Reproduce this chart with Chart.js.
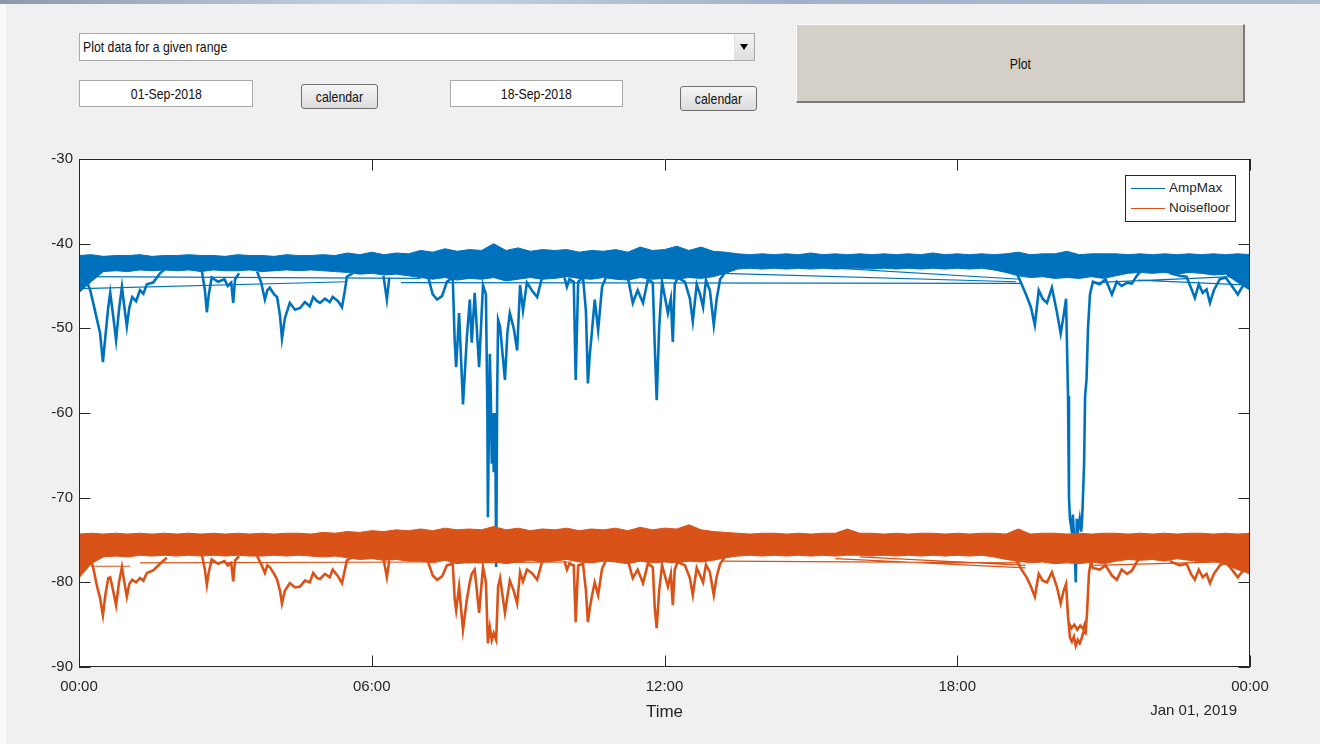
<!DOCTYPE html>
<html>
<head>
<meta charset="utf-8">
<script src="https://cdn.jsdelivr.net/npm/chart.js@4.4.1/dist/chart.umd.min.js"></script>
<style>
html,body{margin:0;padding:0;}
body{width:1320px;height:744px;background:#f0f0f0;position:relative;overflow:hidden;font-family:"Liberation Sans",Arial,sans-serif;}
.ui{position:absolute;box-sizing:border-box;font-family:"Liberation Sans",Arial,sans-serif;font-size:14.3px;color:#111;}
.ui .t{display:inline-block;transform:scaleX(0.86);transform-origin:center;white-space:nowrap;}
#topbar{position:absolute;left:0;top:0;width:1320px;height:4px;background:linear-gradient(90deg,#8d99aa,#c6d6e8 30%,#a2b2c6 60%,#aebdd0);}
#leftstrip{position:absolute;left:0;top:4px;width:6px;height:740px;background:#fafafa;}
#popup{left:79px;top:33px;width:676px;height:28px;background:#fff;border:1px solid #a9a9a9;}
#popup .txt{position:absolute;left:3px;top:0;line-height:27px;}
#popup .txt .t{transform-origin:left center;}
#popup .arrow{position:absolute;right:0;top:0;width:19px;height:26px;background:linear-gradient(#f3f3f3,#dedede);border-left:1px solid #e2e2e2;}
#popup .arrow:after{content:"";position:absolute;left:5px;top:10px;border-left:4px solid transparent;border-right:4px solid transparent;border-top:6px solid #000;}
.edit{background:#fff;border:1px solid #a9a9a9;text-align:center;line-height:26px;}
.btn{border:1px solid #707070;border-radius:3px;background:linear-gradient(#f5f5f5,#dcdcdc);text-align:center;line-height:25px;}
#plotbtn{left:796px;top:24px;width:449px;height:79px;background:#d4d0c8;border-top:1px solid #fbfbfb;border-left:1px solid #fbfbfb;border-right:2px solid #7b7b7b;border-bottom:2px solid #7b7b7b;text-align:center;line-height:78px;}
#chartwrap{position:absolute;left:0;top:140px;width:1320px;height:604px;}
#legend{position:absolute;left:1125px;top:175px;width:111px;height:47px;box-sizing:border-box;border:1px solid #262626;background:#fff;font-family:"Liberation Sans",Arial,sans-serif;font-size:13.5px;color:#262626;}
#legend .row{position:absolute;left:0;height:20px;width:110px;}
#legend .ln{position:absolute;left:5px;top:10px;width:34px;height:0;border-top:1.5px solid;}
#legend .lb{position:absolute;left:43px;top:2px;line-height:16px;white-space:nowrap;}
#datelabel{position:absolute;left:1100px;width:137px;top:700px;text-align:right;font-family:"Liberation Sans",Arial,sans-serif;font-size:15px;color:#262626;line-height:20px;}
</style>
</head>
<body>
<div id="topbar"></div>
<div id="leftstrip"></div>
<div class="ui" id="popup"><span class="txt"><span class="t">Plot data for a given range</span></span><span class="arrow"></span></div>
<div class="ui edit" style="left:79px;top:80px;width:174px;height:27px;"><span class="t">01-Sep-2018</span></div>
<div class="ui btn" style="left:301px;top:84px;width:77px;height:25px;"><span class="t">calendar</span></div>
<div class="ui edit" style="left:450px;top:80px;width:173px;height:27px;"><span class="t">18-Sep-2018</span></div>
<div class="ui btn" style="left:680px;top:86px;width:77px;height:25px;"><span class="t">calendar</span></div>
<div class="ui" id="plotbtn"><span class="t">Plot</span></div>
<div id="chartwrap"><canvas id="c" width="1320" height="604"></canvas></div>
<div id="legend">
  <div class="row" style="top:2px;"><span class="ln" id="lnA"></span><span class="lb" id="lbA"></span></div>
  <div class="row" style="top:22px;"><span class="ln" id="lnN"></span><span class="lb" id="lbN"></span></div>
</div>
<div id="datelabel">Jan 01, 2019</div>
<script>
// ---------------- data ----------------
const seriesNames = ['AmpMax', 'Noisefloor'];
const xTickLabels = ['00:00', '06:00', '12:00', '18:00', '00:00'];
const xAxisTitle = 'Time';

// sample times (hours of day) for the dense band envelopes
const bandHours = [0,0.25,0.5,0.75,1,1.25,1.5,1.75,2,2.25,2.5,2.75,3,3.25,3.5,3.75,4,4.25,4.5,4.75,
  5,5.25,5.5,5.75,6,6.25,6.5,6.75,7,7.25,7.5,7.75,8,8.25,8.5,8.75,9,9.25,9.5,9.75,
  10,10.25,10.5,10.75,11,11.25,11.5,11.75,12,12.25,12.5,12.75,13,13.25,13.5,13.75,14,14.25,14.5,14.75,
  15,15.25,15.5,15.75,16,16.25,16.5,16.75,17,17.25,17.5,17.75,18,18.25,18.5,18.75,19,19.25,19.5,19.75,
  20,20.25,20.5,20.75,21,21.25,21.5,21.75,22,22.25,22.5,22.75,23,23.25,23.5,23.75,24];

// AmpMax band: upper and lower envelope
const ampTop = [-41.4,-41.3,-41.5,-41.4,-41.4,-41.3,-41.5,-41.4,-41.4,-41.3,
  -41.4,-41.4,-41.5,-41.3,-41.4,-41.4,-41.5,-41.3,-41.4,-41.4,
  -41.3,-41.4,-41.1,-41.3,-41.0,-41.3,-41.1,-41.2,
  -40.8,-41.0,-40.6,-40.9,-40.7,-40.8,-40.0,-40.8,-40.5,-40.9,
  -40.7,-40.8,-40.7,-41.0,-40.8,-40.9,-40.7,-41.0,-40.4,-40.8,
  -40.7,-40.3,-40.8,-40.4,-40.9,-41.0,
  -41.2,-41.3,-41.2,-41.3,-41.2,-41.3,-41.1,-41.3,-41.2,-41.3,
  -41.2,-41.3,-41.2,-41.3,-41.2,-41.3,-41.1,-41.3,-41.2,-41.3,
  -41.2,-41.3,-41.2,-41.0,-41.3,-41.2,-41.2,-40.9,-41.3,-41.2,
  -41.2,-41.2,-41.3,-41.2,-41.3,-41.2,-41.3,-41.2,-41.3,-41.2,
  -41.3,-41.2,-41.3];
const ampBottom = [-45.8,-44.5,-43.3,-43.2,-43.3,-43.1,-43.2,-43.1,-43.2,-43.1,
  -43.3,-43.1,-43.2,-43.2,-43.1,-43.3,-43.2,-43.1,-43.2,-43.1,
  -43.2,-43.3,-43.4,-43.6,-43.5,-43.7,-43.6,-43.8,
  -44.0,-44.2,-44.0,-44.3,-44.1,-44.2,-44.0,-44.4,-44.2,-44.0,
  -44.2,-44.1,-43.9,-44.1,-44.2,-44.0,-44.2,-44.3,-44.0,-44.2,
  -44.1,-44.2,-44.0,-44.1,-43.9,-43.5,
  -43.0,-42.9,-43.0,-42.9,-43.0,-42.9,-43.0,-42.9,-43.0,-42.9,
  -42.9,-43.0,-42.9,-43.0,-42.9,-43.0,-42.9,-43.0,-42.9,-43.0,
  -42.9,-43.1,-43.4,
  -43.8,-44.0,-43.9,-44.1,-44.0,-44.1,-43.9,-44.1,
  -43.8,-43.5,-43.4,-43.5,-43.4,-43.6,-43.4,-43.5,-43.7,-43.6,
  -44.6,-45.5];

// Noisefloor band: upper and lower envelope
const noiseTop = [-74.3,-74.2,-74.3,-74.2,-74.3,-74.2,-74.3,-74.2,-74.3,-74.2,
  -74.3,-74.2,-74.3,-74.2,-74.3,-74.2,-74.3,-74.2,-74.2,-74.3,
  -74.1,-74.2,-74.0,-74.1,-73.9,-74.0,-73.8,-73.9,
  -73.7,-73.9,-73.6,-73.8,-73.7,-73.8,-73.4,-73.8,-73.6,-73.9,
  -73.7,-73.8,-73.6,-73.9,-73.7,-73.8,-73.6,-73.9,-73.5,-73.8,
  -73.6,-73.7,-73.2,-73.8,-74.0,-74.1,
  -74.2,-74.3,-74.2,-74.2,-74.3,-74.2,-74.3,-74.2,-74.2,-73.7,
  -74.2,-74.2,-74.3,-74.2,-74.3,-74.2,-74.2,-74.3,-74.2,-74.3,
  -74.2,-74.2,-74.3,-73.7,-74.3,-74.2,-74.2,-74.3,-74.2,-74.3,
  -74.2,-74.2,-74.3,-74.2,-74.3,-74.2,-74.3,-74.2,-74.2,-74.3,
  -74.2,-74.3,-74.2];
const noiseBottom = [-79.5,-77.8,-77.0,-76.9,-77.0,-76.8,-76.9,-76.8,-76.9,-76.8,
  -76.9,-76.8,-76.9,-76.8,-76.9,-76.9,-76.8,-76.9,-76.8,-76.9,
  -77.0,-76.9,-77.1,-77.3,-77.2,-77.4,-77.3,-77.5,
  -77.5,-77.7,-77.4,-77.8,-77.6,-77.7,-77.5,-77.8,-77.6,-77.4,
  -77.6,-77.5,-77.3,-77.6,-77.7,-77.5,-77.6,-77.8,-77.5,-77.7,
  -77.6,-77.7,-77.5,-77.6,-77.4,-77.1,
  -76.9,-76.8,-76.9,-76.8,-76.9,-76.8,-76.9,-76.8,-76.9,-76.8,
  -76.8,-76.9,-76.8,-76.9,-76.8,-76.9,-76.8,-76.9,-76.8,-76.9,
  -76.8,-77.0,-77.3,
  -77.5,-77.7,-77.6,-77.8,-77.7,-77.8,-77.6,-77.8,
  -77.5,-77.3,-77.4,-77.3,-77.5,-77.2,-77.4,-77.6,-77.5,-77.9,
  -78.5,-79.0];

// AmpMax excursions below the band: [hour, dB], null = break
const ampDips = [
  [0.12,-43.6],[0.16,-44.5],[0.23,-45.5],[0.30,-47.2],[0.37,-49.0],[0.43,-50.5],[0.49,-54.0],[0.54,-51.0],[0.60,-47.5],[0.64,-45.8],
  [0.70,-48.5],[0.76,-51.4],[0.82,-47.8],[0.88,-45.1],[0.93,-47.5],[0.98,-49.8],[1.03,-47.6],[1.09,-46.3],[1.17,-46.8],[1.25,-45.5],
  [1.32,-45.9],[1.39,-44.8],[1.52,-44.6],[1.66,-43.5],[1.80,-42.8], null,
  [2.52,-43.3],[2.58,-45.5],[2.62,-48.1],[2.66,-46.0],[2.72,-44.0],[2.85,-44.5],[2.98,-44.2],[3.05,-45.0],[3.12,-44.6],[3.16,-47.0],
  [3.20,-44.2],[3.28,-43.5], null,
  [3.65,-43.3],[3.73,-44.5],[3.81,-46.6],[3.86,-45.5],[3.91,-45.2],[4.00,-46.0],[4.06,-46.3],[4.12,-48.5],[4.16,-51.2],[4.22,-48.8],
  [4.32,-47.0],[4.43,-47.8],[4.53,-47.6],[4.63,-46.9],[4.73,-47.4],[4.80,-46.3],[4.88,-46.8],[4.94,-47.0],[5.04,-46.5],[5.14,-46.9],
  [5.20,-46.3],[5.31,-46.8],[5.39,-47.5],[5.45,-45.5],[5.49,-43.9],[5.61,-43.5], null,
  [6.24,-43.8],[6.31,-46.6],[6.36,-44.0], null,
  [7.15,-43.8],[7.25,-46.0],[7.34,-46.6],[7.44,-46.2],[7.54,-44.5],[7.66,-44.0],[7.70,-51.5],[7.73,-54.6],[7.79,-48.2],[7.87,-59.0],
  [7.95,-51.0],[8.01,-46.6],[8.05,-51.7],[8.11,-45.8],[8.20,-54.6],[8.28,-44.9],[8.34,-46.0],[8.37,-60.0],[8.38,-72.3],[8.40,-62.0],
  [8.42,-53.0],[8.44,-58.0],[8.46,-66.0],[8.48,-60.0],[8.50,-67.0],[8.53,-60.0],[8.55,-78.2],[8.57,-58.0],[8.59,-49.0],[8.63,-49.8],
  [8.68,-53.0],[8.73,-56.1],[8.78,-50.5],[8.83,-48.2],[8.91,-50.0],[8.98,-52.6],[9.04,-44.9],[9.10,-47.9],[9.18,-44.6],[9.28,-45.5],
  [9.39,-46.3],[9.49,-44.0], null,
  [9.95,-44.0],[10.00,-45.1],[10.05,-44.2],[10.14,-44.5],[10.18,-56.1],[10.23,-44.5],[10.33,-44.0],[10.39,-48.0],[10.43,-56.5],[10.47,-53.0],
  [10.51,-50.6],[10.57,-46.6],[10.64,-50.2],[10.72,-45.1],[10.80,-44.0], null,
  [11.25,-44.0],[11.35,-47.0],[11.45,-45.5],[11.56,-47.0],[11.66,-44.2],[11.76,-44.6],[11.80,-52.0],[11.84,-58.5],[11.89,-50.0],[11.95,-44.5],
  [12.07,-48.2],[12.13,-46.5],[12.17,-51.6],[12.21,-44.8],[12.27,-44.0],[12.42,-44.5],[12.52,-46.5],[12.58,-49.2],[12.66,-44.8],[12.73,-46.0],
  [12.79,-47.5],[12.85,-44.3],[12.93,-45.5],[13.01,-49.6],[13.07,-46.5],[13.14,-44.2],[13.24,-43.4], null,
  [19.14,-43.3],[19.22,-43.5],[19.32,-44.8],[19.43,-46.3],[19.51,-47.5],[19.59,-49.6],[19.67,-45.5],[19.75,-46.5],[19.84,-47.0],[19.94,-45.2],
  [20.04,-48.0],[20.12,-50.6],[20.18,-48.5],[20.23,-46.5],[20.27,-58.0],[20.29,-70.0],[20.31,-72.5],[20.35,-74.0],[20.37,-72.0],[20.39,-74.2],
  [20.43,-80.0],[20.45,-72.5],[20.47,-74.0],[20.51,-72.5],[20.54,-74.0],[20.56,-72.5],[20.60,-66.0],[20.62,-58.0],[20.65,-56.0],[20.68,-50.0],
  [20.72,-46.0],[20.78,-44.5],[20.92,-44.8],[21.04,-44.2],[21.17,-46.0],[21.27,-44.5],[21.37,-45.0],[21.48,-44.6],[21.58,-44.7],[21.68,-43.8],
  [21.74,-43.4], null,
  [22.36,-43.5],[22.56,-43.8],[22.70,-43.9],[22.79,-45.2],[22.87,-46.4],[22.95,-44.8],[23.03,-45.8],[23.11,-45.4],[23.18,-47.0],[23.26,-45.5],
  [23.38,-44.2],[23.50,-44.0],[23.63,-45.0],[23.75,-46.0],[23.83,-45.2],[23.91,-44.6],[24.00,-44.0]
];
// AmpMax day-to-day wrap segments
const ampWraps = [
  [0.05,-45.3],[5.50,-44.5], null, [0.20,-43.9],[7.00,-44.1], null, [6.60,-44.6],[19.30,-44.7], null,
  [13.20,-43.5],[19.20,-44.5], null, [15.50,-42.9],[19.30,-44.2], null, [20.80,-44.6],[24.00,-43.8], null,
  [21.70,-44.3],[24.00,-44.9]
];

// Noisefloor excursions below the band
const noiseDips = [
  [0.02,-79.0],[0.12,-77.5],[0.23,-77.0],[0.30,-78.5],[0.37,-80.5],[0.43,-81.8],[0.49,-83.9],[0.54,-81.5],[0.60,-79.5],[0.64,-79.4],
  [0.70,-81.0],[0.76,-82.7],[0.82,-80.0],[0.88,-78.2],[0.93,-80.0],[0.98,-81.7],[1.03,-80.2],[1.09,-79.7],[1.17,-80.0],[1.25,-79.5],
  [1.32,-79.8],[1.39,-78.9],[1.52,-78.6],[1.66,-77.8],[1.80,-77.1], null,
  [2.52,-76.8],[2.58,-78.5],[2.62,-80.3],[2.66,-78.8],[2.72,-77.3],[2.85,-77.8],[2.98,-77.5],[3.05,-78.0],[3.12,-77.7],[3.16,-79.9],
  [3.20,-77.4],[3.28,-76.9], null,
  [3.65,-76.9],[3.73,-77.8],[3.81,-78.9],[3.86,-78.0],[3.91,-78.2],[4.00,-79.0],[4.06,-79.7],[4.12,-81.0],[4.16,-82.5],[4.22,-81.0],
  [4.32,-80.1],[4.43,-80.6],[4.53,-80.5],[4.63,-79.8],[4.73,-80.0],[4.80,-78.9],[4.88,-79.5],[4.94,-79.6],[5.04,-79.0],[5.14,-79.4],
  [5.20,-78.5],[5.31,-79.3],[5.39,-80.1],[5.45,-78.5],[5.49,-77.4],[5.61,-77.0], null,
  [6.24,-77.2],[6.31,-79.4],[6.36,-77.4], null,
  [7.15,-77.5],[7.25,-79.2],[7.34,-79.7],[7.44,-79.3],[7.54,-78.0],[7.66,-77.8],[7.70,-82.0],[7.73,-83.3],[7.79,-80.5],[7.87,-85.6],
  [7.95,-82.0],[8.01,-80.0],[8.05,-79.0],[8.11,-78.5],[8.20,-83.6],[8.28,-78.2],[8.34,-80.0],[8.38,-87.2],[8.42,-85.3],[8.46,-86.8],
  [8.50,-86.0],[8.55,-86.8],[8.59,-80.5],[8.63,-79.5],[8.73,-83.6],[8.83,-79.8],[8.91,-81.0],[8.98,-82.5],[9.04,-78.8],[9.10,-79.9],
  [9.18,-78.5],[9.28,-78.9],[9.39,-79.7],[9.49,-77.6], null,
  [9.95,-77.5],[10.00,-78.5],[10.05,-77.8],[10.14,-78.0],[10.18,-84.7],[10.23,-78.0],[10.33,-77.8],[10.39,-81.0],[10.43,-84.7],[10.47,-83.0],
  [10.51,-81.7],[10.57,-80.0],[10.64,-81.5],[10.72,-78.4],[10.80,-77.4], null,
  [11.25,-77.4],[11.35,-79.5],[11.45,-78.5],[11.56,-80.1],[11.66,-77.8],[11.76,-78.2],[11.80,-83.0],[11.84,-85.4],[11.89,-81.0],[11.95,-78.0],
  [12.07,-80.5],[12.13,-79.0],[12.17,-82.7],[12.21,-78.5],[12.27,-77.6],[12.42,-78.0],[12.52,-79.5],[12.58,-81.5],[12.66,-78.3],[12.73,-79.2],
  [12.79,-80.0],[12.85,-77.9],[12.93,-78.8],[13.01,-81.5],[13.07,-79.3],[13.14,-77.8],[13.24,-77.0], null,
  [19.14,-77.0],[19.22,-77.5],[19.32,-78.5],[19.43,-79.5],[19.51,-80.5],[19.59,-81.7],[19.67,-79.0],[19.75,-79.8],[19.84,-80.0],[19.94,-78.8],
  [20.04,-80.5],[20.12,-82.5],[20.18,-81.0],[20.23,-80.2],[20.27,-84.0],[20.31,-86.5],[20.35,-87.0],[20.39,-86.4],[20.43,-87.5],[20.47,-86.8],
  [20.51,-87.2],[20.55,-86.6],[20.59,-85.8],[20.63,-86.0],[20.66,-83.6],[20.70,-78.9],[20.74,-77.5],[20.78,-78.3],[20.92,-78.5],[21.04,-78.0],
  [21.17,-79.2],[21.27,-79.7],[21.37,-78.5],[21.48,-79.0],[21.58,-78.6],[21.68,-77.6],[21.74,-77.0], null,
  [20.29,-84.8],[20.34,-85.4],[20.40,-85.0],[20.46,-85.6],[20.52,-85.1],[20.58,-85.5],[20.63,-84.6], null,
  [22.36,-77.5],[22.56,-78.0],[22.70,-77.8],[22.79,-79.0],[22.87,-79.7],[22.95,-78.5],[23.03,-79.4],[23.11,-79.0],[23.18,-80.1],[23.26,-79.0],
  [23.38,-78.0],[23.50,-77.6],[23.63,-78.5],[23.75,-79.4],[23.83,-78.8],[23.91,-78.2],[24.00,-78.0]
];
// Noisefloor day-to-day wrap segments
const noiseWraps = [
  [0.25,-78.1],[1.05,-78.1], null, [1.25,-77.7],[7.15,-77.6], null, [7.60,-77.7],[10.10,-77.6], null,
  [13.20,-77.5],[19.30,-77.7], null, [15.50,-77.2],[19.40,-78.3], null, [16.00,-77.0],[19.40,-78.0], null,
  [20.80,-78.0],[24.00,-77.5]
];

// ---------------- styling ----------------
const BLUE = '#0072BD', ORANGE = '#D95319', AXIS = '#262626';
const FONT = '"Liberation Sans", Arial, sans-serif';

function bandPoints(vals) { return bandHours.map((h, i) => ({ x: h, y: vals[i] })); }
function pairPoints(arr) {
  let prev = 0;
  return arr.map(p => {
    if (p === null) return { x: prev, y: null };
    prev = p[0];
    return { x: p[0], y: p[1] };
  });
}
function line(label, data, color, width, order, extra) {
  return Object.assign({ label, data, borderColor: color, backgroundColor: color, borderWidth: width,
    pointRadius: 0, tension: 0, fill: false, spanGaps: false, order }, extra || {});
}

const datasets = [
  line(seriesNames[0], bandPoints(ampTop), BLUE, 1, 2),
  line(seriesNames[0] + ' band', bandPoints(ampBottom), BLUE, 1, 2, { fill: '-1' }),
  line(seriesNames[0] + ' dips', pairPoints(ampDips), BLUE, 2.6, 2),
  line(seriesNames[0] + ' wraps', pairPoints(ampWraps), BLUE, 1.2, 2),
  line(seriesNames[1], bandPoints(noiseTop), ORANGE, 1, 1),
  line(seriesNames[1] + ' band', bandPoints(noiseBottom), ORANGE, 1, 1, { fill: '-1' }),
  line(seriesNames[1] + ' dips', pairPoints(noiseDips), ORANGE, 2.6, 1),
  line(seriesNames[1] + ' wraps', pairPoints(noiseWraps), ORANGE, 1.2, 1)
];

const axesBox = {
  id: 'axesBox',
  beforeDraw(chart) {
    const a = chart.chartArea, ctx = chart.ctx;
    ctx.save();
    ctx.fillStyle = '#ffffff';
    ctx.fillRect(a.left, a.top, a.right - a.left, a.bottom - a.top);
    ctx.restore();
  },
  afterDraw(chart) {
    const { ctx, chartArea: a, scales: { x, y } } = chart;
    const TL = 11.5;
    ctx.save();
    ctx.strokeStyle = AXIS;
    ctx.lineWidth = 1;
    ctx.beginPath();
    ctx.rect(a.left + 0.5, a.top + 0.5, a.right - a.left - 1, a.bottom - a.top - 1);
    x.ticks.forEach(t => {
      const px = Math.round(x.getPixelForValue(t.value)) + 0.5;
      ctx.moveTo(px, a.bottom); ctx.lineTo(px, a.bottom - TL);
      ctx.moveTo(px, a.top); ctx.lineTo(px, a.top + TL);
    });
    y.ticks.forEach(t => {
      const py = Math.round(y.getPixelForValue(t.value)) + 0.5;
      ctx.moveTo(a.left, py); ctx.lineTo(a.left + TL, py);
      ctx.moveTo(a.right, py); ctx.lineTo(a.right - TL, py);
    });
    ctx.stroke();
    ctx.restore();
  }
};

new Chart(document.getElementById('c'), {
  type: 'line',
  data: { datasets },
  plugins: [axesBox],
  options: {
    responsive: false,
    animation: false,
    events: [],
    layout: { padding: { left: 0, top: 19, right: 70, bottom: 0 } },
    plugins: { legend: { display: false }, tooltip: { enabled: false } },
    scales: {
      x: {
        type: 'linear', min: 0, max: 24,
        grid: { display: false, drawTicks: false },
        border: { display: false },
        ticks: { stepSize: 6, autoSkip: false, maxRotation: 0, padding: 11, color: AXIS,
                 font: { family: FONT, size: 15 }, callback: (v, i) => xTickLabels[i] },
        title: { display: true, text: xAxisTitle, color: AXIS, font: { family: FONT, size: 17 },
                 padding: { top: 0, bottom: 21 } },
        afterFit(s) { s.height = 77; }
      },
      y: {
        type: 'linear', min: -90, max: -30,
        grid: { display: false, drawTicks: false },
        border: { display: false },
        ticks: { stepSize: 10, padding: 6, color: AXIS, font: { family: FONT, size: 15 },
                 callback: v => String(v) },
        afterFit(s) { s.width = 79; }
      }
    }
  }
});

// legend entries (drawn as page text, matching the in-axes MATLAB legend)
document.getElementById('lbA').textContent = seriesNames[0];
document.getElementById('lbN').textContent = seriesNames[1];
document.getElementById('lnA').style.borderColor = BLUE;
document.getElementById('lnN').style.borderColor = ORANGE;
</script>
</body>
</html>
